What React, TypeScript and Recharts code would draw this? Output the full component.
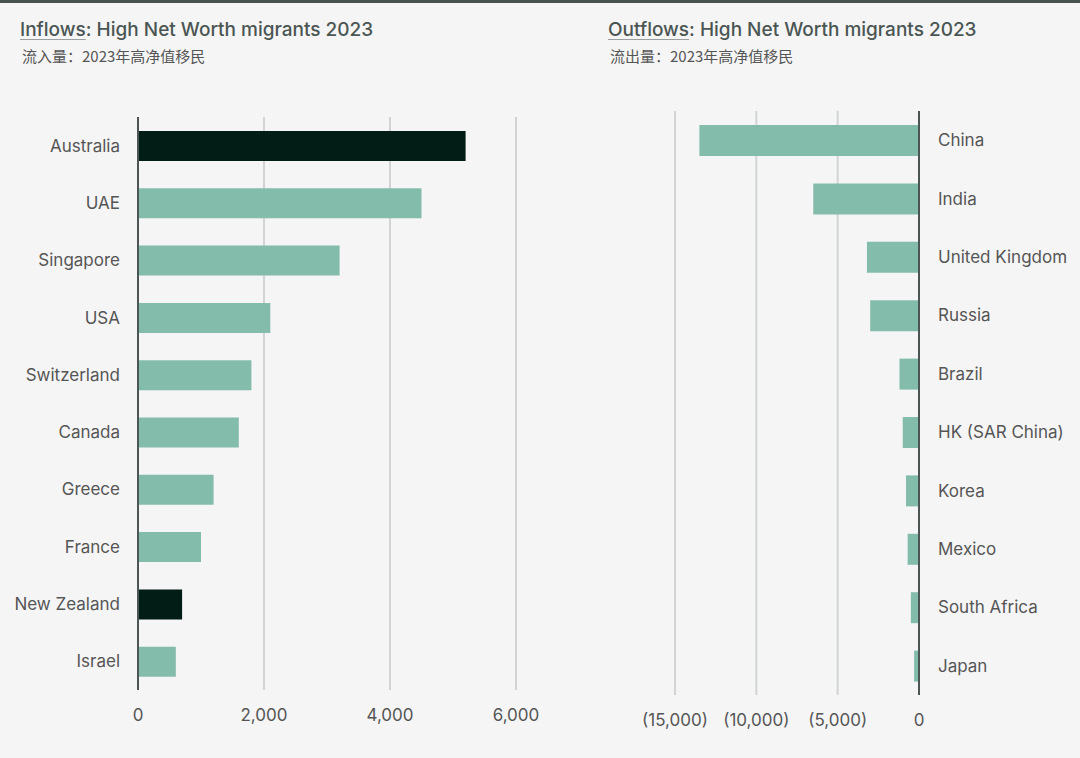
import { BarChart, Bar, XAxis, YAxis, CartesianGrid, Cell } from 'recharts';

const inflowCountries = ['Australia', 'UAE', 'Singapore', 'USA', 'Switzerland', 'Canada', 'Greece', 'France', 'New Zealand', 'Israel'];
const inflowValues = [5200, 4500, 3200, 2100, 1800, 1600, 1200, 1000, 700, 600];
const inflowTicks = [0, 2000, 4000, 6000];
const highlighted = ['Australia', 'New Zealand'];

const outflowCountries = ['China', 'India', 'United Kingdom', 'Russia', 'Brazil', 'HK (SAR China)', 'Korea', 'Mexico', 'South Africa', 'Japan'];
const outflowValues = [-13500, -6500, -3200, -3000, -1200, -1000, -800, -700, -500, -300];
const outflowTicks = [-15000, -10000, -5000, 0];

const TEAL = '#83bcab';
const DARK = '#011d16';
const AXIS = '#4b5553';
const GRID = '#d2d4d4';
const TEXT = '#555555';
const FONT = 'Inter, "Noto Sans", sans-serif';

const inflowData = inflowCountries.map((name, i) => ({ name, value: inflowValues[i] }));
const outflowData = outflowCountries.map((name, i) => ({ name, value: outflowValues[i] }));

const fmtIn = (v: number) => v.toLocaleString('en-US');
const fmtOut = (v: number) => (v < 0 ? `(${Math.abs(v).toLocaleString('en-US')})` : '0');

const tickStyle = { fill: TEXT, fontSize: 17, fontFamily: FONT };

function Title({ left, word, zh }: { left: number; word: string; zh: string }) {
    return (
        <div style={{ position: 'absolute', left, top: 18, fontFamily: FONT }}>
            <div style={{ fontSize: 19, color: AXIS, fontWeight: 500, whiteSpace: 'nowrap' }}>
                <span style={{ textDecoration: 'underline', textDecorationColor: '#9aa09f', textUnderlineOffset: 3 }}>{word}</span>
                : High Net Worth migrants 2023
            </div>
            <div style={{ fontSize: 15, color: TEXT, marginTop: 4, marginLeft: 2, fontFamily: '"Noto Sans CJK SC", sans-serif' }}>
                {zh}
            </div>
        </div>
    );
}

export default function App() {
    return (
        <div style={{ position: 'absolute', left: 0, top: 0, width: 1080, height: 758, background: '#f5f5f5', overflow: 'hidden' }}>
            <div style={{ position: 'absolute', left: 0, top: 0, width: 1080, height: 3, background: '#48524f' }} />
            <Title left={20} word="Inflows" zh="流入量：2023年高净值移民" />
            <Title left={608} word="Outflows" zh="流出量：2023年高净值移民" />

            <div style={{ position: 'absolute', left: 0, top: 0 }}>
                <BarChart
                    width={540}
                    height={758}
                    layout="vertical"
                    data={inflowData}
                    margin={{ top: 117, right: 24, bottom: 38, left: 0 }}
                >
                    <CartesianGrid horizontal={false} stroke={GRID} strokeWidth={2} />
                    <XAxis
                        type="number"
                        domain={[0, 6000]}
                        ticks={inflowTicks}
                        tickFormatter={fmtIn}
                        axisLine={false}
                        tickLine={false}
                        tickSize={0}
                        tickMargin={19}
                        height={30}
                        tick={tickStyle}
                    />
                    <YAxis
                        type="category"
                        dataKey="name"
                        width={138}
                        axisLine={{ stroke: AXIS, strokeWidth: 2 }}
                        tickLine={false}
                        tickSize={0}
                        tickMargin={18}
                        tick={tickStyle}
                    />
                    <Bar dataKey="value" barSize={30} isAnimationActive={false}>
                        {inflowData.map((d) => (
                            <Cell key={d.name} fill={highlighted.includes(d.name) ? DARK : TEAL} />
                        ))}
                    </Bar>
                </BarChart>
            </div>

            <div style={{ position: 'absolute', left: 560, top: 0 }}>
                <BarChart
                    width={520}
                    height={758}
                    layout="vertical"
                    data={outflowData}
                    margin={{ top: 111, right: 0, bottom: 33, left: 115 }}
                >
                    <CartesianGrid horizontal={false} stroke={GRID} strokeWidth={2} />
                    <XAxis
                        type="number"
                        domain={[-15000, 0]}
                        ticks={outflowTicks}
                        tickFormatter={fmtOut}
                        axisLine={false}
                        tickLine={false}
                        tickSize={0}
                        tickMargin={19}
                        height={30}
                        tick={tickStyle}
                    />
                    <YAxis
                        type="category"
                        dataKey="name"
                        orientation="right"
                        width={161}
                        axisLine={{ stroke: AXIS, strokeWidth: 2 }}
                        tickLine={false}
                        tickSize={0}
                        tickMargin={19}
                        tick={{ ...tickStyle, textAnchor: 'start' }}
                    />
                    <Bar dataKey="value" barSize={31} fill={TEAL} isAnimationActive={false} />
                </BarChart>
            </div>
        </div>
    );
}
